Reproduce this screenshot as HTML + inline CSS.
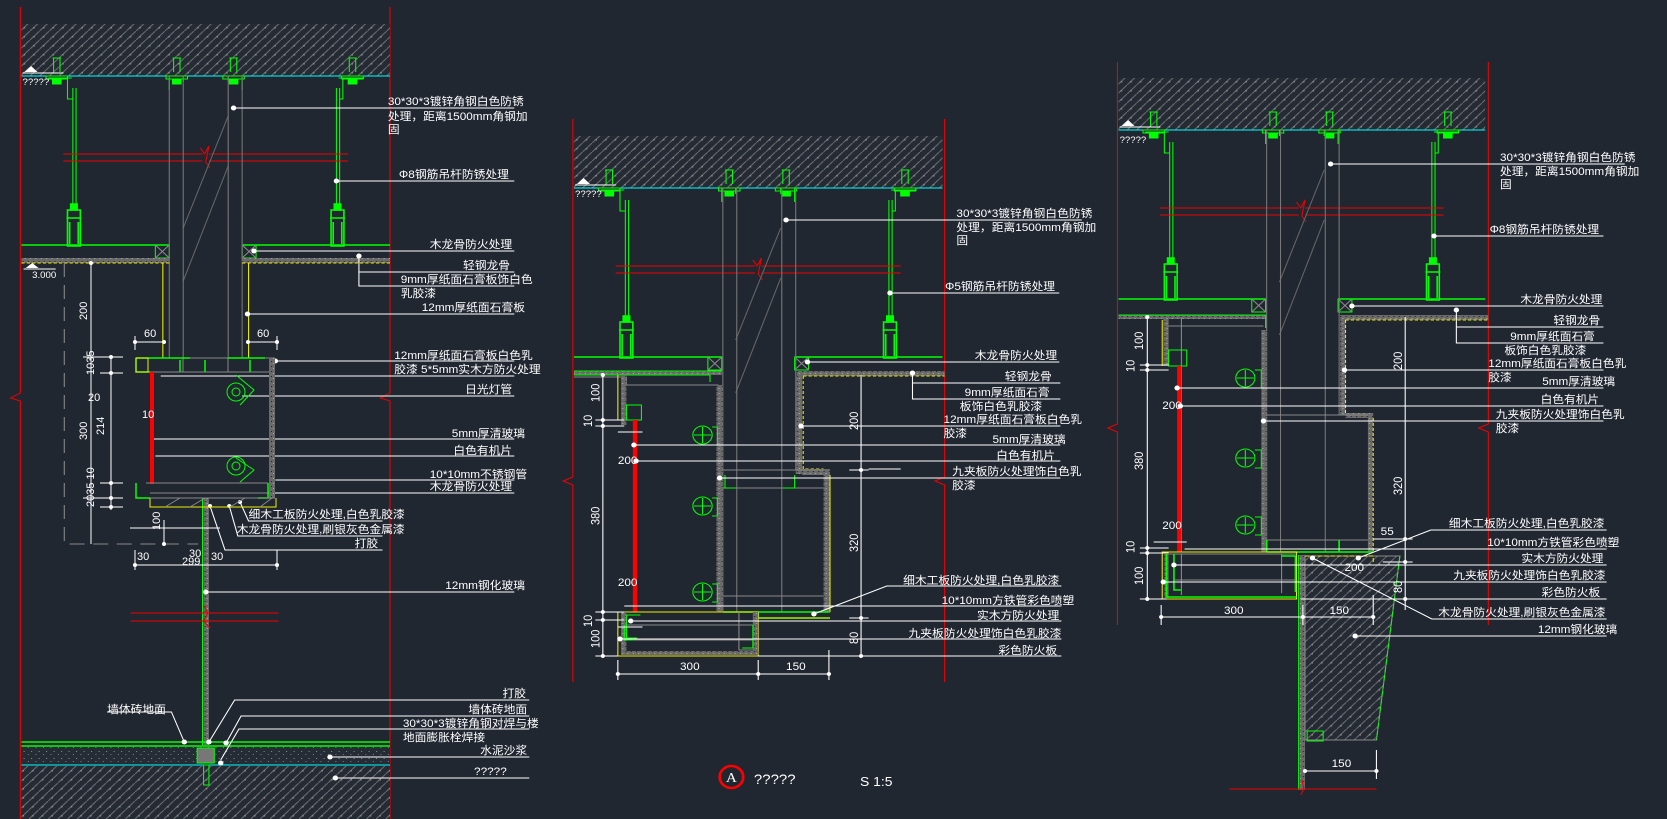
<!DOCTYPE html>
<html><head><meta charset="utf-8">
<style>
html,body{margin:0;padding:0;background:#212731;}
svg{display:block;}
text{font-family:"Liberation Sans","Noto Sans CJK SC",sans-serif;fill:#fff;font-size:11px;}
</style></head>
<body>
<svg width="1667" height="819" viewBox="0 0 1667 819" xmlns="http://www.w3.org/2000/svg">
<defs>
<pattern id="h" width="9" height="9" patternUnits="userSpaceOnUse">
<rect width="9" height="9" fill="#252b35"/>
<path d="M0 9 L9 0" stroke="#6c6c6c" stroke-width="1"/>
<rect x="3" y="5" width="1.5" height="1.5" fill="#888"/>
</pattern>
<pattern id="s" width="5" height="5" patternUnits="userSpaceOnUse">
<rect width="5" height="5" fill="#6a6a6a"/>
<rect x="1" y="1" width="1" height="1" fill="#222"/>
<rect x="3" y="3" width="1" height="1" fill="#aaa"/>
</pattern>
<pattern id="fl" width="7" height="7" patternUnits="userSpaceOnUse">
<rect width="7" height="7" fill="#262c36"/>
<rect x="1" y="2" width="1" height="1" fill="#888"/>
<rect x="5" y="5" width="1" height="1" fill="#777"/>
</pattern>
<g id="anc" stroke="#0f0" fill="none">
<path d="M-3 -18 V-4 M3 -18 V-4 M-4 -18 H4"/>
<rect x="-10" y="0" width="20" height="3"/>
<rect x="-4" y="3" width="8" height="5" fill="#0f0"/>
</g>
<g id="clip" stroke="#0f0" fill="none" stroke-width="1.5">
<rect x="-3" y="0" width="6" height="6" fill="#0f0"/>
<rect x="-6" y="6" width="12" height="36"/>
<path d="M-7 14 H7 M-4 18 V40 M4 18 V40"/>
</g>
<g id="top">
<rect x="1" y="-52" width="344" height="52" fill="url(#h)"/>
<line x1="1" y1="0" x2="345" y2="0" stroke="#0ff"/>
<use href="#anc" x="34"/><use href="#anc" x="146"/><use href="#anc" x="199"/><use href="#anc" x="310"/>
<path d="M26 2 H48 M44 2 V23 H49 M49 12 V128 M52 12 V128" stroke="#0f0" fill="none"/>
<path d="M321 2 H297 M301 2 V23 H298 M298 12 V128 M295 12 V128" stroke="#0f0" fill="none"/>
<use href="#clip" x="50" y="128"/><use href="#clip" x="296" y="128"/>
<path d="M139 0 V14 M207 0 V14 M152 0 V6 M194 0 V6" stroke="#0f0"/>
<path d="M40 78 H170 M176 78 H306 M40 85 H170 M176 85 H306 M168 72 L172 78 L176 70 L173 86 L177 92" stroke="#e00" fill="none"/>
<path d="M1 169 H139 M207 169 H345" stroke="#0f0" stroke-width="1.5"/>
<rect x="126" y="169" width="13" height="13" fill="none" stroke="#0f0"/>
<path d="M126 169 L139 182 M139 169 L126 182" stroke="#888"/>
<rect x="207" y="169" width="13" height="13" fill="none" stroke="#0f0"/>
<path d="M207 169 L220 182 M220 169 L207 182" stroke="#888"/>
<path d="M152 152 L194 40 M152 205 L194 90" stroke="#666"/>
<path d="M4 -4 L10 -10 L16 -4 Z" fill="#fff"/>
<line x1="2" y1="-3" x2="40" y2="-3" stroke="#fff"/>
</g>
</defs>

<!-- ============ PANEL 1 (scaled) ============ -->
<g transform="scale(1.0714,1)">
<path d="M19 7 V393 L10 398 L19 401 V819 M364 7 V393 L355 398 L364 401 V819" stroke="#e00" fill="none"/>
<use href="#top" transform="translate(19,76)"/>
<text x="21" y="85" style="font-size:9px">?????</text>
<path d="M158 76 V358 M171 76 V358 M213 76 V358 M226 76 V358" stroke="#777"/>
<rect x="20" y="258" width="138" height="5" fill="url(#s)"/>
<rect x="226" y="258" width="138" height="5" fill="url(#s)"/>
<path d="M20 263 H158 M226 263 H364" stroke="#ee0" stroke-dasharray="3 2"/>
<path d="M24 268 L30 263 L36 268 Z" fill="#fff"/><line x1="22" y1="269" x2="52" y2="269" stroke="#fff"/>
<text x="30" y="278" style="font-size:9px">3.000</text>
<path d="M152 263 V358 M232 263 V358" stroke="#ee0"/>
<!-- glass -->
<rect x="190" y="498" width="5" height="247" fill="url(#s)"/>
<line x1="189" y1="498" x2="189" y2="745" stroke="#0f0"/>
<path d="M122 613 H260 M122 621 H260 M190 605 L194 613 L190 621 L196 628" stroke="#e00" fill="none"/>
<!-- floor -->
<path d="M20 742 H364 M20 746 H364" stroke="#0f0" stroke-width="1.5"/>
<rect x="20" y="747" width="344" height="18" fill="url(#fl)"/>
<line x1="20" y1="765" x2="364" y2="765" stroke="#0ff"/>
<rect x="20" y="766" width="344" height="53" fill="url(#h)"/>
<rect x="184" y="748" width="16" height="15" fill="#777" stroke="#0f0"/>
<rect x="190" y="765" width="5" height="20" fill="none" stroke="#0f0"/>
<path d="M60 263 V544 H185" stroke="#888" stroke-dasharray="14 8" fill="none"/>
<!-- labels -->
<g stroke="#fff" fill="none">
<path d="M218 108 H480 M314 181 H480 M237 251 H480 M335 256 V286 H480 M335 272 H480 M231 314 H480 M257 361 H480 M150 376 H480 M226 396 H480 M140 439 H480 M145 456 H480 M257 480 H480 M140 493 H480"/>
<path d="M224 502 L232 521 H357 M214 506 L222 536 H357 M196 506 L210 550 H357 M192 592 H480"/>
<path d="M172 742 L160 712 H100 M195 742 L219 700 H494 M211 743 L225 716 H494 M206 760 L223 729 H494 M308 757 H494 M313 778 H494"/>
</g>
<g fill="#fff"><circle cx="218" cy="108" r="2.5"/><circle cx="314" cy="181" r="2.5"/><circle cx="237" cy="251" r="2.5"/><circle cx="335" cy="256" r="2.5"/><circle cx="231" cy="314" r="2.5"/><circle cx="257" cy="361" r="2.5"/><circle cx="172" cy="742" r="2.5"/><circle cx="195" cy="742" r="2.5"/><circle cx="211" cy="743" r="2.5"/><circle cx="206" cy="763" r="2.5"/><circle cx="308" cy="757" r="2.5"/><circle cx="313" cy="778" r="2.5"/><circle cx="192" cy="592" r="2.5"/><circle cx="224" cy="502" r="2"/><circle cx="214" cy="506" r="2"/><circle cx="196" cy="506" r="2"/></g>
<text x="362" y="105">30*30*3镀锌角钢白色防锈</text>
<text x="362" y="120">处理，距离1500mm角钢加</text>
<text x="362" y="133">固</text>
<text x="475" y="178" text-anchor="end">Φ8钢筋吊杆防锈处理</text>
<text x="478" y="248" text-anchor="end">木龙骨防火处理</text>
<text x="476" y="269" text-anchor="end">轻钢龙骨</text>
<text x="374" y="283">9mm厚纸面石膏板饰白色</text>
<text x="374" y="297">乳胶漆</text>
<text x="490" y="311" text-anchor="end">12mm厚纸面石膏板</text>
<text x="368" y="359">12mm厚纸面石膏板白色乳</text>
<text x="368" y="373">胶漆  5*5mm实木方防火处理</text>
<text x="478" y="393" text-anchor="end">日光灯管</text>
<text x="490" y="437" text-anchor="end">5mm厚清玻璃</text>
<text x="478" y="454" text-anchor="end">白色有机片</text>
<text x="492" y="478" text-anchor="end">10*10mm不锈钢管</text>
<text x="478" y="490" text-anchor="end">木龙骨防火处理</text>
<text x="232" y="518">细木工板防火处理,白色乳胶漆</text>
<text x="221" y="533">木龙骨防火处理,刷银灰色金属漆</text>
<text x="353" y="547" text-anchor="end">打胶</text>
<text x="490" y="589" text-anchor="end">12mm钢化玻璃</text>
<text x="491" y="697" text-anchor="end">打胶</text>
<text x="100" y="713">墙体砖地面</text>
<text x="492" y="713" text-anchor="end">墙体砖地面</text>
<text x="376" y="727">30*30*3镀锌角钢对焊与楼</text>
<text x="376" y="741">地面膨胀栓焊接</text>
<text x="492" y="754" text-anchor="end">水泥沙浆</text>
<text x="473" y="775" text-anchor="end">?????</text>
</g>

<!-- PANEL 1 unscaled box + dims -->
<g>
<path d="M136 358 H275 M146 372 H270 M183 358 V372 M228 358 V372" stroke="#888" fill="none"/>
<path d="M136 358 V372 H150 M136 358 H190 M228 358 H265 M180 360 V372 M205 360 V372 M250 360 V372" stroke="#0f0" fill="none" stroke-width="1.5"/>
<rect x="136" y="358" width="12" height="14" fill="none" stroke="#ee0"/>
<rect x="269" y="358" width="6" height="140" fill="url(#s)"/>
<rect x="150" y="372" width="4" height="112" fill="#f00"/>
<path d="M146 483 H268 M150 493 H268" stroke="#888"/>
<path d="M136 483 V498 H150 M258 498 H268 V483" stroke="#0f0" stroke-width="1.5" fill="none"/>
<path d="M150 498 V507 H276 V498" stroke="#ee0" fill="none"/>
<path d="M150 498 H275 M165 507 L180 498 M190 507 L205 498 M230 507 L245 498 M260 507 L272 498" stroke="#888" fill="none"/>
<g stroke="#0f0" fill="none"><circle cx="236" cy="392" r="9"/><circle cx="236" cy="392" r="4"/><path d="M236 375 L254 390 L240 405"/>
<circle cx="236" cy="466" r="9"/><circle cx="236" cy="466" r="4"/><path d="M236 458 L254 470 L240 482"/></g>
<g stroke="#fff" fill="none">
<path d="M91 263 V544 M111 355 V510 M83 357 H123 M100 373 H123 M100 483 H123 M83 498 H123 M100 507 H123"/>
<path d="M135 342 H164 M248 342 H277 M135 336 V350 M277 336 V350 M135 565 H277 M135 550 V570 M277 550 V570 M130 528 H220"/>
<path d="M164 545 V520"/>
</g>
<g fill="#fff"><circle cx="91" cy="263" r="2"/><circle cx="111" cy="357" r="2"/><circle cx="111" cy="373" r="2"/><circle cx="111" cy="483" r="2"/><circle cx="111" cy="498" r="2"/><circle cx="111" cy="507" r="2"/><circle cx="135" cy="565" r="2"/><circle cx="277" cy="565" r="2"/><circle cx="164" cy="544" r="2"/><circle cx="135" cy="342" r="2"/><circle cx="164" cy="342" r="2"/><circle cx="248" cy="342" r="2"/><circle cx="277" cy="342" r="2"/></g>
<text transform="translate(87,320) rotate(-90)">200</text>
<text transform="translate(94,375) rotate(-90)">1035</text>
<text transform="translate(87,440) rotate(-90)">300</text>
<text transform="translate(104,435) rotate(-90)">214</text>
<text transform="translate(94,507) rotate(-90)">2035 10</text>
<text transform="translate(160,530) rotate(-90)">100</text>
<text x="88" y="401">20</text><text x="142" y="418">10</text>
<text x="144" y="337">60</text><text x="257" y="337">60</text>
<text x="137" y="560">30</text><text x="189" y="557">30</text><text x="182" y="565">299</text><text x="211" y="560">30</text>
</g>

<!-- ============ PANEL 2 ============ -->
<g transform="translate(560,0) scale(1.0714,1) translate(-560,0)">
<path d="M572 119 V477 L563 481 L572 485 V682 M919 119 V477 L910 481 L919 485 V682" stroke="#e00" fill="none"/>
<use href="#top" transform="translate(572,188)"/>
<text x="574" y="197" style="font-size:9px">?????</text>
<path d="M712 188 V612 M725 188 V612 M767 188 V612 M780 188 V470" stroke="#777"/>
<rect x="573" y="371" width="138" height="4" fill="url(#s)"/>
<path d="M573 371 H711 M573 375 H700 V382" stroke="#0f0" fill="none"/>
<path d="M573 377 H622 V385 H708" stroke="#888" fill="none"/>
<rect x="617" y="375" width="5" height="50" fill="url(#s)"/>
<line x1="614" y1="375" x2="614" y2="420" stroke="#ee0"/>
<rect x="622" y="405" width="14" height="15" fill="none" stroke="#0f0"/>
<rect x="628" y="420" width="4" height="192" fill="#f00"/>
<rect x="706" y="385" width="6" height="227" fill="url(#s)"/>
<rect x="781" y="371" width="138" height="5" fill="url(#s)"/>
<rect x="780" y="376" width="6" height="98" fill="url(#s)"/>
<path d="M787 376 V469 H806 M787 376 H919" stroke="#ee0" fill="none" stroke-dasharray="3 2"/>
<rect x="786" y="469" width="26" height="6" fill="url(#s)"/>
<rect x="806" y="475" width="6" height="137" fill="url(#s)"/>
<line x1="812" y1="475" x2="812" y2="612" stroke="#ee0"/>
<path d="M712 470 H806 M712 488 H806 M712 596 H806" stroke="#888"/>
<path d="M714 475 V488 H724 M779 475 V488 H768" stroke="#0f0" fill="none"/>
<path d="M712 612 H812 M745 612 V618 H812" stroke="#0f0" fill="none" stroke-width="1.5"/>
<path d="M745 618 H812" stroke="#ee0"/>
<rect x="614" y="612" width="131" height="44" fill="none" stroke="#ee0"/>
<rect x="617" y="612" width="5" height="42" fill="url(#s)"/>
<rect x="740" y="612" width="5" height="42" fill="url(#s)"/>
<rect x="617" y="651" width="128" height="4" fill="url(#s)"/>
<path d="M622 625 H740 M628 640 H740 M727 612 V650 H740" stroke="#888" fill="none"/>
<path d="M622 615 H635 M622 615 V638 H632 M620 625 V640 H628 M740 625 V648 H730" stroke="#0f0" fill="none"/>
<g stroke="#0f0" fill="none">
<circle cx="693" cy="435" r="9"/><path d="M685 435 H701 M693 427 V443 M702 427 H707 V445 H702"/>
<circle cx="693" cy="506" r="9"/><path d="M685 506 H701 M693 498 V514 M702 498 H707 V516 H702"/>
<circle cx="693" cy="592" r="9"/><path d="M685 592 H701 M693 584 V600 M702 584 H707 V602 H702"/>
</g>
<g stroke="#fff" fill="none">
<path d="M600 375 V656 M593 420 H620 M593 426 H620 M614 432 H637 M593 612 H620 M593 620 H620 M593 656 H614 M614 627 H637"/>
<path d="M841 375 V656 M830 470 H848 M830 618 H848 M812 656 H848"/>
<path d="M614 674 H811 M614 660 V680 M745 660 V680 M811 650 V680"/>
</g>
<g fill="#fff"><circle cx="600" cy="375" r="2"/><circle cx="600" cy="420" r="2"/><circle cx="600" cy="426" r="2"/><circle cx="600" cy="612" r="2"/><circle cx="600" cy="620" r="2"/><circle cx="600" cy="656" r="2"/><circle cx="841" cy="470" r="2"/><circle cx="841" cy="618" r="2"/><circle cx="841" cy="656" r="2"/><circle cx="614" cy="674" r="2"/><circle cx="745" cy="674" r="2"/><circle cx="811" cy="674" r="2"/></g>
<text transform="translate(597,402) rotate(-90)">100</text>
<text transform="translate(590,427) rotate(-90)">10</text>
<text transform="translate(597,525) rotate(-90)">380</text>
<text transform="translate(590,627) rotate(-90)">10</text>
<text transform="translate(597,648) rotate(-90)">100</text>
<text transform="translate(838,430) rotate(-90)">200</text>
<text transform="translate(838,552) rotate(-90)">320</text>
<text transform="translate(838,644) rotate(-90)">80</text>
<text x="614" y="464">200</text><text x="614" y="586">200</text>
<text x="672" y="670">300</text><text x="771" y="670">150</text>
<g stroke="#fff" fill="none">
<path d="M771 220 H1047 M868 293 H1026 M791 362 H1026 M889 373 V399 H1027 M889 383 H1027 M785 426 H1027 M629 445 H1027 M631 461 H1027 M878 469 H848 M709 478 H1027"/>
<path d="M797 614 L865 586 H1028 M620 606 H1028 M627 621 H1028 M617 639 H1028 M745 656 H1028"/>
</g>
<g fill="#fff"><circle cx="771" cy="220" r="2.5"/><circle cx="868" cy="293" r="2.5"/><circle cx="791" cy="362" r="2.5"/><circle cx="889" cy="373" r="2.5"/><circle cx="785" cy="426" r="2.5"/><circle cx="629" cy="445" r="2.5"/><circle cx="631" cy="461" r="2.5"/><circle cx="709" cy="478" r="2.5"/><circle cx="797" cy="614" r="2.5"/><circle cx="626" cy="621" r="2.5"/><circle cx="616" cy="639" r="2.5"/></g>
<text x="930" y="217">30*30*3镀锌角钢白色防锈</text>
<text x="930" y="231">处理，距离1500mm角钢加</text>
<text x="930" y="244">固</text>
<text x="1022" y="290" text-anchor="end">Φ5钢筋吊杆防锈处理</text>
<text x="1024" y="359" text-anchor="end">木龙骨防火处理</text>
<text x="1019" y="380" text-anchor="end">轻钢龙骨</text>
<text x="1017" y="396" text-anchor="end">9mm厚纸面石膏</text>
<text x="1010" y="410" text-anchor="end">板饰白色乳胶漆</text>
<text x="918" y="423">12mm厚纸面石膏板白色乳</text>
<text x="918" y="437">胶漆</text>
<text x="1032" y="443" text-anchor="end">5mm厚清玻璃</text>
<text x="1022" y="459" text-anchor="end">白色有机片</text>
<text x="926" y="475">九夹板防火处理饰白色乳</text>
<text x="926" y="489">胶漆</text>
<text x="1026" y="584" text-anchor="end">细木工板防火处理,白色乳胶漆</text>
<text x="1040" y="604" text-anchor="end">10*10mm方铁管彩色喷塑</text>
<text x="1026" y="619" text-anchor="end">实木方防火处理</text>
<text x="1028" y="637" text-anchor="end">九夹板防火处理饰白色乳胶漆</text>
<text x="1024" y="654" text-anchor="end">彩色防火板</text>
<circle cx="720" cy="777" r="11" fill="none" stroke="#f00" stroke-width="2.5"/>
<text x="720" y="782" text-anchor="middle" style="font-size:14px;font-family:'Liberation Serif',serif">A</text>
<text x="741" y="784" style="font-size:14px">?????</text>
<text x="840" y="786" style="font-size:13px">S 1:5</text>
</g>

<!-- ============ PANEL 3 ============ -->
<g transform="translate(1110,0) scale(1.0657,1) translate(-1110,0)">
<path d="M1117 62 V424 L1108 428 L1117 432 V625 M1465 62 V424 L1456 428 L1465 432 V625" stroke="#e00" fill="none"/>
<use href="#top" transform="translate(1117,130)"/>
<text x="1119" y="143" style="font-size:9px">?????</text>
<path d="M1257 130 V552 M1270 130 V552 M1312 130 V552 M1325 130 V415" stroke="#777"/>
<rect x="1118" y="315" width="138" height="4" fill="url(#s)"/>
<path d="M1118 315 H1256 M1165 315 H1256 V328" stroke="#0f0" fill="none"/>
<rect x="1160" y="318" width="5" height="48" fill="url(#s)"/>
<line x1="1159" y1="320" x2="1159" y2="366" stroke="#ee0"/>
<path d="M1165 326 H1254 M1177 318 V552" stroke="#888" fill="none"/>
<rect x="1165" y="350" width="17" height="16" fill="none" stroke="#0f0"/>
<rect x="1173" y="366" width="4" height="186" fill="#f00"/>
<rect x="1252" y="330" width="5" height="222" fill="url(#s)"/>
<rect x="1326" y="315" width="139" height="5" fill="url(#s)"/>
<rect x="1326" y="320" width="5" height="95" fill="url(#s)"/>
<path d="M1331 320 V414 H1352 M1331 320 H1465" stroke="#ee0" fill="none" stroke-dasharray="3 2"/>
<rect x="1331" y="413" width="26" height="5" fill="url(#s)"/>
<rect x="1352" y="418" width="5" height="134" fill="url(#s)"/>
<line x1="1357" y1="418" x2="1357" y2="552" stroke="#ee0" stroke-dasharray="3 2"/>
<path d="M1257 415 H1352 M1257 540 H1352 M1257 552 H1352" stroke="#888"/>
<path d="M1257 552 H1357 M1257 540 V552 M1325 540 V552" stroke="#0f0" fill="none" stroke-width="1.5"/>
<rect x="1159" y="552" width="126" height="47" fill="none" stroke="#ee0"/>
<rect x="1161" y="554" width="4" height="44" fill="url(#s)"/>
<path d="M1165 554 H1285 M1170 580 H1284 M1177 554 V595 M1271 554 V593" stroke="#888" fill="none"/>
<path d="M1163 554 V597 H1285 M1170 554 V590 H1177 M1271 556 H1284 V592" stroke="#0f0" fill="none" stroke-width="1.5"/>
<rect x="1288" y="555" width="5" height="235" fill="url(#s)"/>
<line x1="1287" y1="555" x2="1287" y2="790" stroke="#0f0"/>
<polygon points="1293,556 1382,556 1360,740 1293,740" fill="url(#h)" stroke="#888"/>
<path d="M1382 556 L1360 740" stroke="#0f0" stroke-dasharray="6 2"/>
<path d="M1293 556 H1357 V562" stroke="#ee0" fill="none" stroke-dasharray="4 2"/>
<rect x="1295" y="731" width="15" height="10" fill="none" stroke="#0f0"/>
<path d="M1222 789 H1360 M1290 780 L1292 789 L1289 795" stroke="#e00" fill="none"/>
<g stroke="#0f0" fill="none">
<circle cx="1237" cy="378" r="9"/><path d="M1229 378 H1245 M1237 370 V386 M1246 370 H1252 V388 H1246"/>
<circle cx="1237" cy="458" r="9"/><path d="M1229 458 H1245 M1237 450 V466 M1246 450 H1252 V468 H1246"/>
<circle cx="1237" cy="525" r="9"/><path d="M1229 525 H1245 M1237 517 V533 M1246 517 H1252 V535 H1246"/>
</g>
<g stroke="#fff" fill="none">
<path d="M1145 317 V599 M1138 365 H1165 M1138 370 H1165 M1151 542 H1182 M1138 548 H1165 M1138 553 H1165 M1138 599 H1163"/>
<path d="M1387 317 V610 M1357 539 H1394 M1366 562 H1394 M1378 599 H1394"/>
<path d="M1158 617 H1357 M1158 605 V625 M1291 605 V625 M1357 595 V625 M1293 771 H1360 M1360 750 V779"/>
</g>
<g fill="#fff"><circle cx="1145" cy="317" r="2"/><circle cx="1145" cy="365" r="2"/><circle cx="1145" cy="370" r="2"/><circle cx="1145" cy="548" r="2"/><circle cx="1145" cy="553" r="2"/><circle cx="1145" cy="599" r="2"/><circle cx="1387" cy="539" r="2"/><circle cx="1387" cy="562" r="2"/><circle cx="1387" cy="599" r="2"/><circle cx="1158" cy="617" r="2"/><circle cx="1291" cy="617" r="2"/><circle cx="1357" cy="617" r="2"/><circle cx="1293" cy="771" r="2"/><circle cx="1360" cy="771" r="2"/></g>
<text transform="translate(1141,350) rotate(-90)">100</text>
<text transform="translate(1133,372) rotate(-90)">10</text>
<text transform="translate(1141,470) rotate(-90)">380</text>
<text transform="translate(1133,553) rotate(-90)">10</text>
<text transform="translate(1141,585) rotate(-90)">100</text>
<text transform="translate(1384,370) rotate(-90)">200</text>
<text transform="translate(1384,495) rotate(-90)">320</text>
<text transform="translate(1384,593) rotate(-90)">80</text>
<text x="1159" y="409">200</text><text x="1159" y="529">200</text>
<text x="1364" y="535">55</text><text x="1330" y="571">200</text>
<text x="1217" y="614">300</text><text x="1316" y="614">150</text><text x="1318" y="767">150</text>
<g stroke="#fff" fill="none">
<path d="M1317 164 H1593 M1414 236 H1573 M1337 306 H1573 M1435 310 V343 H1573 M1435 327 H1573 M1330 370 H1573 M1173 388 H1573 M1176 406 H1573 M1254 421 H1573"/>
<path d="M1343 558 L1411 530 H1576 M1180 549 H1576 M1170 565 H1576 M1160 582 H1576 M1289 599 H1576 M1300 558 L1412 619 H1576 M1340 636 H1576"/>
</g>
<g fill="#fff"><circle cx="1317" cy="164" r="2.5"/><circle cx="1414" cy="236" r="2.5"/><circle cx="1337" cy="306" r="2.5"/><circle cx="1435" cy="310" r="2.5"/><circle cx="1330" cy="370" r="2.5"/><circle cx="1173" cy="388" r="2.5"/><circle cx="1176" cy="406" r="2.5"/><circle cx="1254" cy="421" r="2.5"/><circle cx="1343" cy="558" r="2.5"/><circle cx="1170" cy="565" r="2.5"/><circle cx="1160" cy="582" r="2.5"/><circle cx="1300" cy="558" r="2.5"/><circle cx="1340" cy="636" r="2.5"/></g>
<text x="1476" y="161">30*30*3镀锌角钢白色防锈</text>
<text x="1476" y="175">处理，距离1500mm角钢加</text>
<text x="1476" y="188">固</text>
<text x="1569" y="233" text-anchor="end">Φ8钢筋吊杆防锈处理</text>
<text x="1572" y="303" text-anchor="end">木龙骨防火处理</text>
<text x="1570" y="324" text-anchor="end">轻钢龙骨</text>
<text x="1565" y="340" text-anchor="end">9mm厚纸面石膏</text>
<text x="1557" y="354" text-anchor="end">板饰白色乳胶漆</text>
<text x="1465" y="367">12mm厚纸面石膏板白色乳</text>
<text x="1465" y="381">胶漆</text>
<text x="1584" y="385" text-anchor="end">5mm厚清玻璃</text>
<text x="1569" y="403" text-anchor="end">白色有机片</text>
<text x="1472" y="418">九夹板防火处理饰白色乳</text>
<text x="1472" y="432">胶漆</text>
<text x="1574" y="527" text-anchor="end">细木工板防火处理,白色乳胶漆</text>
<text x="1588" y="546" text-anchor="end">10*10mm方铁管彩色喷塑</text>
<text x="1573" y="562" text-anchor="end">实木方防火处理</text>
<text x="1575" y="579" text-anchor="end">九夹板防火处理饰白色乳胶漆</text>
<text x="1570" y="596" text-anchor="end">彩色防火板</text>
<text x="1575" y="616" text-anchor="end">木龙骨防火处理,刷银灰色金属漆</text>
<text x="1586" y="633" text-anchor="end">12mm钢化玻璃</text>
</g>
</svg>
</body></html>
